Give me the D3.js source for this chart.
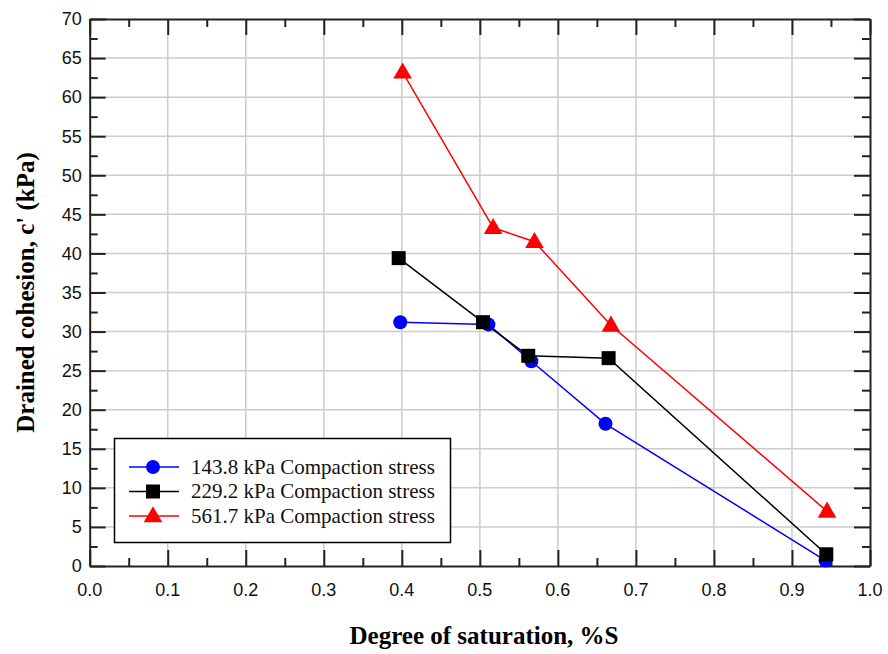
<!DOCTYPE html>
<html><head><meta charset="utf-8">
<script src="https://cdn.jsdelivr.net/npm/d3@7"></script>
<style>body{margin:0;background:#fff}</style>
</head><body>
<svg id="c" width="888" height="654"></svg>
<script>
const seriesNames = ["143.8 kPa Compaction stress","229.2 kPa Compaction stress","561.7 kPa Compaction stress"];
const seriesColors = ["#0000ff","#000000","#ff0000"];
const seriesShapes = ["circle","square","triangle"];
const xBlue = [0.398,0.511,0.566,0.661,0.943];
const yBlue = [31.2,30.9,26.2,18.2,0.7];
const xBlack = [0.396,0.504,0.562,0.665,0.944];
const yBlack = [39.4,31.2,26.9,26.6,1.5];
const xRed = [0.401,0.517,0.570,0.668,0.945];
const yRed = [63.2,43.3,41.5,30.8,7.0];
const xTicks = [0,0.1,0.2,0.3,0.4,0.5,0.6,0.7,0.8,0.9,1.0];
const yTicks = [0,5,10,15,20,25,30,35,40,45,50,55,60,65,70];
const xLabel = "Degree of saturation, %S";
const yLabel = "Drained cohesion, c' (kPa)";

const SERIF = "'Liberation Serif', 'Times New Roman', Times, serif";
const SANS = "'Liberation Sans', Arial, Helvetica, sans-serif";
const series = [[xBlue,yBlue],[xBlack,yBlack],[xRed,yRed]];
const svg = d3.select("#c");
const L=89.7,R=870,T=19,B=566;
const x = d3.scaleLinear().domain([0,1]).range([L,R]);
const y = d3.scaleLinear().domain([0,70]).range([B,T]);

// grid
const g = svg.append("g");
g.selectAll(".gx").data(xTicks.slice(1,-1)).join("line")
 .attr("x1",d=>x(d)).attr("x2",d=>x(d)).attr("y1",T).attr("y2",B)
 .attr("stroke","#cccccc").attr("stroke-width",1.5);
g.selectAll(".gy").data(yTicks.slice(1,-1)).join("line")
 .attr("y1",d=>y(d)).attr("y2",d=>y(d)).attr("x1",L).attr("x2",R)
 .attr("stroke","#cccccc").attr("stroke-width",1.5);

// axes
const minorX = d3.range(0,21).map(i=>i*0.05);
const minorY = d3.range(0,29).map(i=>i*2.5);
function styleAxis(sel){
  sel.select(".domain").attr("stroke","#222").attr("stroke-width",2);
  sel.selectAll(".tick line").attr("stroke","#222").attr("stroke-width",2);
}
const ax = svg.append("g").attr("transform",`translate(0,${B})`)
 .call(d3.axisBottom(x).tickValues(minorX).tickSizeInner(-8).tickSizeOuter(0).tickFormat(""));
styleAxis(ax);
ax.selectAll(".tick line").attr("y2",(d)=> Math.round(d*20)%2===0 ? -16 : -8);
const axT = svg.append("g").attr("transform",`translate(0,${T})`)
 .call(d3.axisTop(x).tickValues(minorX).tickSizeInner(-8).tickSizeOuter(0).tickFormat(""));
styleAxis(axT);
axT.selectAll(".tick line").attr("y2",(d)=> Math.round(d*20)%2===0 ? 16 : 8);
const ay = svg.append("g").attr("transform",`translate(${L},0)`)
 .call(d3.axisLeft(y).tickValues(minorY).tickSizeInner(-8).tickSizeOuter(0).tickFormat(""));
styleAxis(ay);
ay.selectAll(".tick line").attr("x2",(d)=> Math.round(d/2.5)%2===0 ? 16 : 8);
const ayR = svg.append("g").attr("transform",`translate(${R},0)`)
 .call(d3.axisRight(y).tickValues(minorY).tickSizeInner(-8).tickSizeOuter(0).tickFormat(""));
styleAxis(ayR);
ayR.selectAll(".tick line").attr("x2",(d)=> Math.round(d/2.5)%2===0 ? -16 : -8);

// tick labels
svg.append("g").selectAll("text").data(xTicks).join("text")
 .attr("x",d=>x(d)).attr("y",B+30).attr("text-anchor","middle")
 .style("font-family",SANS).attr("font-size",18).attr("fill","#111")
 .text(d=>d.toFixed(1));
svg.append("g").selectAll("text").data(yTicks).join("text")
 .attr("x",L-8).attr("y",d=>y(d)).attr("dy","0.35em").attr("text-anchor","end")
 .style("font-family",SANS).attr("font-size",18).attr("fill","#111")
 .text(d=>d);

// axis titles
svg.append("text").attr("x",484).attr("y",644).attr("text-anchor","middle")
 .style("font-family",SERIF).attr("font-weight","bold").attr("font-size",25)
 .text(xLabel);
svg.append("text").attr("transform",`translate(34,${(T+B)/2}) rotate(-90)`).attr("text-anchor","middle")
 .style("font-family",SERIF).attr("font-weight","bold").attr("font-size",25)
 .text(yLabel);

// markers
function marker(sel, shape, color){
  if(shape==="circle") sel.append("circle").attr("r",7).attr("fill",color);
  else if(shape==="square") sel.append("rect").attr("x",-7).attr("y",-7).attr("width",14).attr("height",14).attr("fill",color);
  else sel.append("path").attr("d",d3.symbol(d3.symbolTriangle,150)()).attr("transform","translate(0,1)").attr("fill",color);
}
const line = d3.line().x(d=>x(d[0])).y(d=>y(d[1]));
series.forEach((s,i)=>{
  const pts = s[0].map((v,j)=>[v,s[1][j]]);
  svg.append("path").datum(pts).attr("d",line).attr("fill","none")
   .attr("stroke",seriesColors[i]).attr("stroke-width",1.5);
});
series.forEach((s,i)=>{
  const pts = s[0].map((v,j)=>[v,s[1][j]]);
  pts.forEach(p=>{
    const m = svg.append("g").attr("transform",`translate(${x(p[0])},${y(p[1])})`);
    marker(m, seriesShapes[i], seriesColors[i]);
  });
});

// legend
const lg = svg.append("g");
lg.append("rect").attr("x",114.5).attr("y",438.5).attr("width",336).attr("height",104)
 .attr("fill","#fff").attr("stroke","#000").attr("stroke-width",1.5);
seriesNames.forEach((n,i)=>{
  const yy = 467 + i*24.5;
  lg.append("line").attr("x1",129).attr("x2",179).attr("y1",yy).attr("y2",yy)
   .attr("stroke",seriesColors[i]).attr("stroke-width",1.5);
  const m = lg.append("g").attr("transform",`translate(153,${yy})`);
  marker(m, seriesShapes[i], seriesColors[i]);
  lg.append("text").attr("x",191).attr("y",yy).attr("dy","0.33em")
   .style("font-family",SERIF).attr("font-size",21).attr("fill","#111")
   .text(n);
});
</script>
</body></html>
